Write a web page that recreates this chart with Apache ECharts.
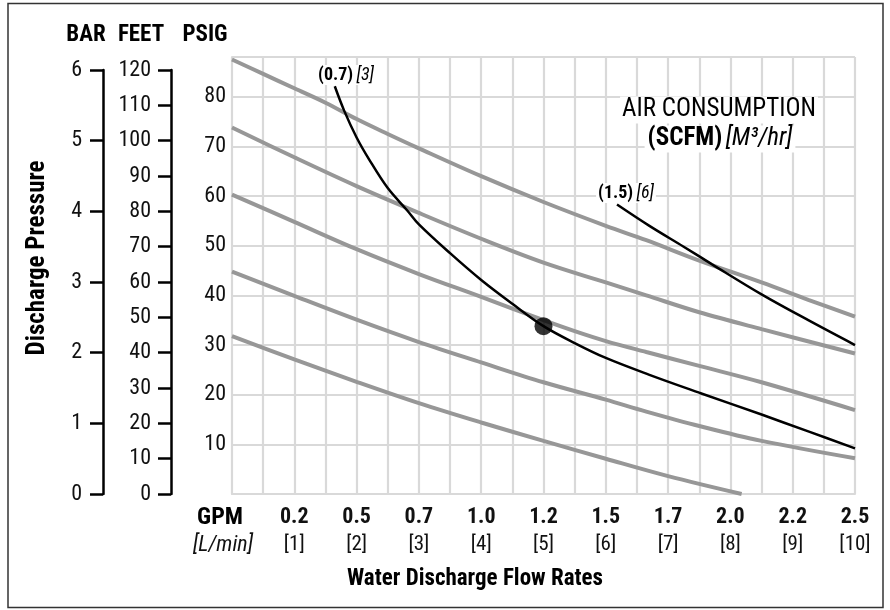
<!DOCTYPE html>
<html>
<head>
    <meta charset="utf-8">
    <script src="https://cdn.jsdelivr.net/npm/echarts@6/dist/echarts.min.js"></script>
</head>
<body style="margin:0;background:#fff">
<div id="main" style="width: 890px;height:610px;"></div>
<script type="text/javascript">
    // x = water flow in L/min, y = discharge pressure in PSIG
    var lpmTicks = [1, 2, 3, 4, 5, 6, 7, 8, 9, 10];
    var gpmLabels = ['0.2', '0.5', '0.7', '1.0', '1.2', '1.5', '1.7', '2.0', '2.2', '2.5'];

    // grey pressure curves, top to bottom
    var curveA = [[0,87.5],[0.5,84.6],[1,81.7],[1.5,78.8],[2,75.5],[2.5,72.5],[3,69.6],[4,64.0],[5,58.8],[6,54.0],[6.65,51.1],[7.5,47.0],[8.5,42.6],[9.25,39.1],[10,35.7]];
    var curveB = [[0,73.8],[1,67.8],[2,62.0],[3,56.6],[4,51.4],[5,46.6],[6,42.6],[6.65,40.0],[7.5,36.6],[8.5,33.2],[10,28.3]];
    var curveC = [[0,60.3],[1,54.8],[2,49.3],[3,44.3],[4,39.7],[5,35.0],[5.5,32.8],[6,30.8],[6.65,28.6],[7.5,25.8],[8.5,22.5],[10,16.9]];
    var curveD = [[0,44.8],[1,39.9],[2,35.1],[3,30.6],[4,26.5],[5,22.5],[6,19.0],[6.65,16.6],[7.5,13.7],[8.5,10.7],[10,7.2]];
    var curveE = [[0,31.8],[1,27.1],[2,22.6],[3,18.3],[4,14.4],[5,10.7],[6,7.1],[7,3.6],[8.18,0]];

    // air consumption curves
    var air07 = [[1.65,82.1],[1.8,77.2],[2.0,71.8],[2.2,67.4],[2.5,61.6],[2.82,57.0],[3,54.3],[3.5,48.5],[4,43.1],[4.5,38.3],[5,33.8],[5.5,30.4],[6,27.4],[6.7,24.0],[7.5,20.4],[8.5,16.0],[9.25,12.6],[10,9.2]];
    var air15 = [[6.18,58.3],[6.7,54.0],[7.25,49.8],[7.7,46.3],[8.5,40.2],[9.25,35.0],[10,30.0]];
    var opPoint = [[5,33.8]];

    var FONT = "'Liberation Sans Narrow','Roboto Condensed','DejaVu Sans Condensed','Arial Narrow',Roboto,sans-serif";
    var GRID = '#d9d9d9';
    var GREY = '#979797';

    var myChart = echarts.init(document.getElementById('main'));

    function grey(d) {
        return {type: 'line', data: d, smooth: 0.35, showSymbol: false, silent: true,
            lineStyle: {color: GREY, width: 4}, z: 3};
    }
    function black(d) {
        return {type: 'line', data: d, smooth: 0.35, showSymbol: false, silent: true,
            lineStyle: {color: '#000', width: 2.5}, z: 4};
    }
    function sideAxis(idx, max, step, margin) {
        return {
            gridIndex: idx, type: 'value', min: 0, max: max, interval: step, position: 'left',
            axisLine: {show: true, lineStyle: {color: '#000', width: 2.5}},
            axisTick: {show: true, length: 13, lineStyle: {color: '#000', width: 2.5}},
            axisLabel: {margin: margin, fontSize: 22, color: '#111', fontFamily: FONT},
            splitLine: {show: false}
        };
    }
    function txt(x, y, s, size, extra) {
        var st = {text: s, fontSize: size, fontFamily: FONT, align: 'center', verticalAlign: 'middle', fill: '#000'};
        for (var k in extra) st[k] = extra[k];
        return {type: 'text', x: x, y: y, style: st};
    }
    function curveLabel(x, y, a, b) {
        return {type: 'text', x: x, y: y, z: 10, style: {
            text: '{b|' + a + '} {i|' + b + '}', align: 'center', verticalAlign: 'middle', backgroundColor: '#fff', padding: [1, 2],
            rich: {b: {fontSize: 18, fontWeight: 'bold', fontFamily: FONT, fill: '#000'}, i: {fontSize: 18, fontStyle: 'italic', fontFamily: FONT, fill: '#000'}}
        }};
    }

    option = {
        animation: false,
        backgroundColor: '#fff',
        textStyle: {fontFamily: FONT},
        grid: [
            {left: 232, right: 35, top: 57, bottom: 116},
            {left: 103, width: 1, top: 70, bottom: 116},
            {left: 171, width: 1, top: 70, bottom: 116}
        ],
        xAxis: [
            {
                // grid columns every 0.5 L/min
                gridIndex: 0, type: 'value', min: 0, max: 10, interval: 0.5,
                axisLine: {show: true, lineStyle: {color: GRID, width: 2}},
                axisTick: {show: false},
                axisLabel: {show: false},
                splitLine: {show: true, interval: 0, lineStyle: {color: GRID, width: 2.2}}
            },
            {
                // GPM / [L/min] labels
                gridIndex: 0, type: 'value', min: 0, max: 10, interval: 1, position: 'bottom',
                axisLine: {show: false}, axisTick: {show: false}, splitLine: {show: false},
                axisLabel: {
                    margin: 10, interval: 0,
                    formatter: function (v) {
                        var i = lpmTicks.indexOf(v);
                        return i < 0 ? '' : '{g|' + gpmLabels[i] + '}\n{l|[' + lpmTicks[i] + ']}';
                    },
                    rich: {
                        g: {fontSize: 22, fontWeight: 'bold', lineHeight: 27, color: '#111', fontFamily: FONT},
                        l: {fontSize: 21, lineHeight: 27, color: '#111', fontFamily: FONT}
                    }
                }
            },
            {gridIndex: 1, type: 'value', show: false},
            {gridIndex: 2, type: 'value', show: false}
        ],
        yAxis: [
            {
                gridIndex: 0, type: 'value', min: 0, max: 88, interval: 10,
                axisLine: {show: true, lineStyle: {color: GRID, width: 2}},
                axisTick: {show: false},
                splitLine: {show: true, lineStyle: {color: GRID, width: 2.2}},
                axisLabel: {
                    margin: 6, fontSize: 22, color: '#111', fontFamily: FONT,
                    formatter: function (v) { return (v > 0 && v % 10 === 0) ? String(v) : ''; }
                }
            },
            sideAxis(1, 6, 1, 21),
            sideAxis(2, 120, 10, 20)
        ],
        graphic: [
            {type: 'rect', shape: {x: 8, y: 3.5, width: 875, height: 604}, style: {fill: 'none', stroke: '#333', lineWidth: 1.5}},
            txt(86, 35, 'BAR', 23, {fontWeight: 'bold'}),
            txt(141, 35, 'FEET', 23, {fontWeight: 'bold'}),
            txt(205, 35, 'PSIG', 23, {fontWeight: 'bold'}),
            {type: 'text', x: 38, y: 258, rotation: Math.PI / 2, style: {text: 'Discharge Pressure', fontSize: 25, fontWeight: 'bold', fontFamily: FONT, align: 'center', verticalAlign: 'middle', fill: '#000'}},
            txt(243, 518, 'GPM', 24, {fontWeight: 'bold', align: 'right'}),
            txt(253, 545, '[L/min]', 22, {fontStyle: 'italic', align: 'right', fill: '#111'}),
            txt(475, 579, 'Water Discharge Flow Rates', 23, {fontWeight: 'bold'}),
            {type: 'text', x: 719, y: 110, z: 10, style: {text: 'AIR CONSUMPTION', fontSize: 25, fontFamily: FONT, align: 'center', verticalAlign: 'middle', fill: '#000', backgroundColor: '#fff', padding: [1, 2]}},
            {type: 'text', x: 720, y: 139, z: 10, style: {
                text: '{b|(SCFM)} {i|[M³/hr]}', align: 'center', verticalAlign: 'middle', backgroundColor: '#fff', padding: [1, 3],
                rich: {b: {fontSize: 25, fontWeight: 'bold', fontFamily: FONT, fill: '#000'}, i: {fontSize: 25, fontStyle: 'italic', fontFamily: FONT, fill: '#000'}}
            }},
            curveLabel(346, 75, '(0.7)', '[3]'),
            curveLabel(626, 193, '(1.5)', '[6]')
        ],
        series: [
            grey(curveA), grey(curveB), grey(curveC), grey(curveD), grey(curveE),
            black(air07), black(air15),
            {type: 'scatter', data: opPoint, symbolSize: 18, itemStyle: {color: '#000'}, z: 5, silent: true}
        ]
    };

    myChart.setOption(option);
</script>
</body>
</html>
